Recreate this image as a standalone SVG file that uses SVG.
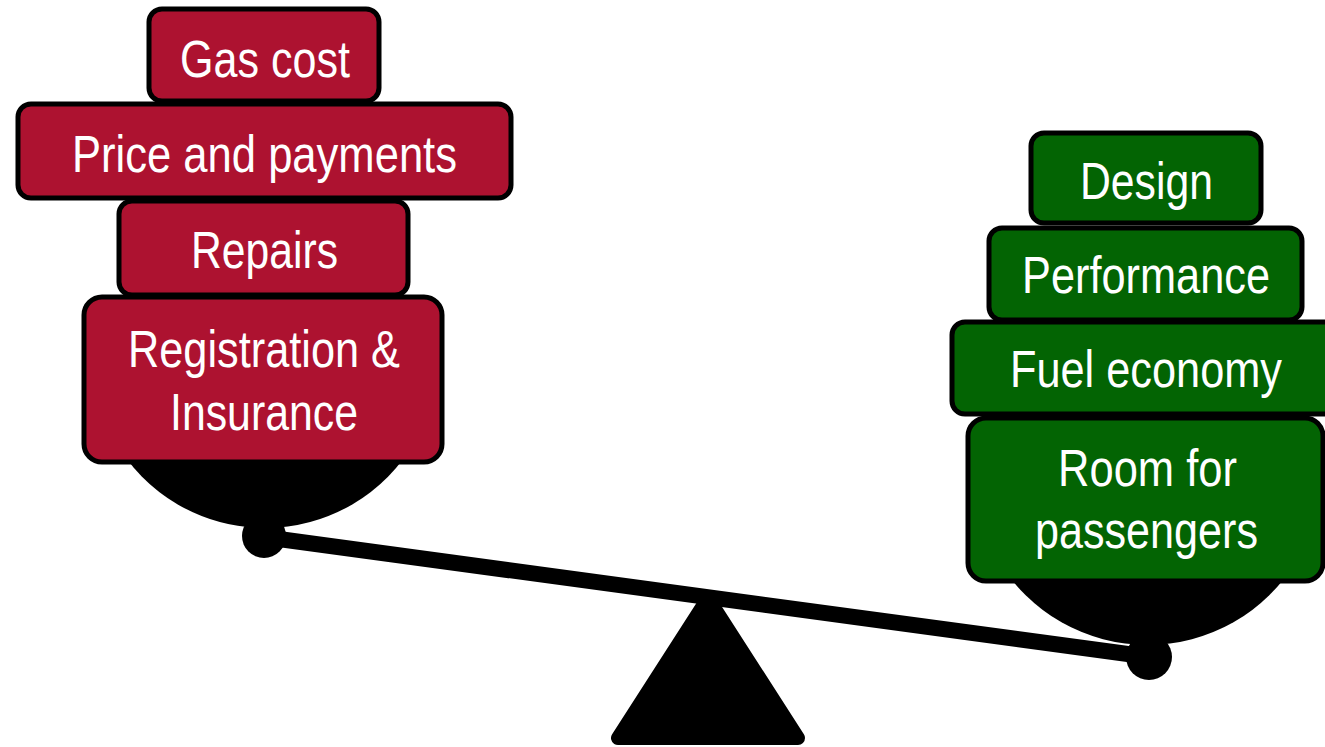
<svg xmlns="http://www.w3.org/2000/svg" width="1325" height="747" viewBox="0 0 1325 747">
<style>
.red{fill:#AD1230;stroke:#000;stroke-width:5}
.grn{fill:#036403;stroke:#000;stroke-width:5}
.lbl{font-family:"Liberation Sans",Arial,sans-serif;font-size:52px;fill:#fff;text-anchor:middle}
.blk{fill:#000}
</style>
<rect width="1325" height="747" fill="#fff"/>
<g id="scale">
<polygon points="708,598 618,738 798,738" fill="#000" stroke="#000" stroke-width="14" stroke-linejoin="round"/>
<path class="blk" d="M114.3 440 A173 173 0 0 0 415.7 440 Z"/>
<path class="blk" d="M998 560 A174 174 0 0 0 1297 560 Z"/>
</g>
<g id="connectors">
<line x1="264" y1="537" x2="1150" y2="657" stroke="#000" stroke-width="16"/>
<circle cx="264" cy="536" r="22" class="blk"/>
<circle cx="1149" cy="657" r="23" class="blk"/>
</g>
<g id="gas-cost"><rect class="red" x="149" y="9" width="230" height="92" rx="13"/><text class="lbl" x="265" y="77" textLength="170" lengthAdjust="spacingAndGlyphs">Gas cost</text></g>
<g id="price"><rect class="red" x="18" y="104" width="493" height="94" rx="13"/><text class="lbl" x="264.5" y="172" textLength="385" lengthAdjust="spacingAndGlyphs">Price and payments</text></g>
<g id="repairs"><rect class="red" x="119" y="201" width="289" height="94" rx="13"/><text class="lbl" x="264.5" y="268" textLength="147" lengthAdjust="spacingAndGlyphs">Repairs</text></g>
<g id="registration"><rect class="red" x="84" y="297" width="358" height="165" rx="18"/><text class="lbl" x="264" y="367" textLength="272" lengthAdjust="spacingAndGlyphs">Registration &amp;</text><text class="lbl" x="264" y="430" textLength="188" lengthAdjust="spacingAndGlyphs">Insurance</text></g>
<g id="design"><rect class="grn" x="1031" y="133" width="230" height="90" rx="13"/><text class="lbl" x="1146.5" y="199" textLength="133" lengthAdjust="spacingAndGlyphs">Design</text></g>
<g id="performance"><rect class="grn" x="989" y="228" width="313" height="92" rx="13"/><text class="lbl" x="1146" y="293" textLength="248" lengthAdjust="spacingAndGlyphs">Performance</text></g>
<g id="fuel"><rect class="grn" x="952" y="322" width="392" height="92" rx="13"/><text class="lbl" x="1146" y="387" textLength="272" lengthAdjust="spacingAndGlyphs">Fuel economy</text></g>
<g id="room"><rect class="grn" x="968" y="418" width="355" height="163" rx="18"/><text class="lbl" x="1147.5" y="486" textLength="179" lengthAdjust="spacingAndGlyphs">Room for</text><text class="lbl" x="1146.5" y="548" textLength="223" lengthAdjust="spacingAndGlyphs">passengers</text></g>
</svg>
